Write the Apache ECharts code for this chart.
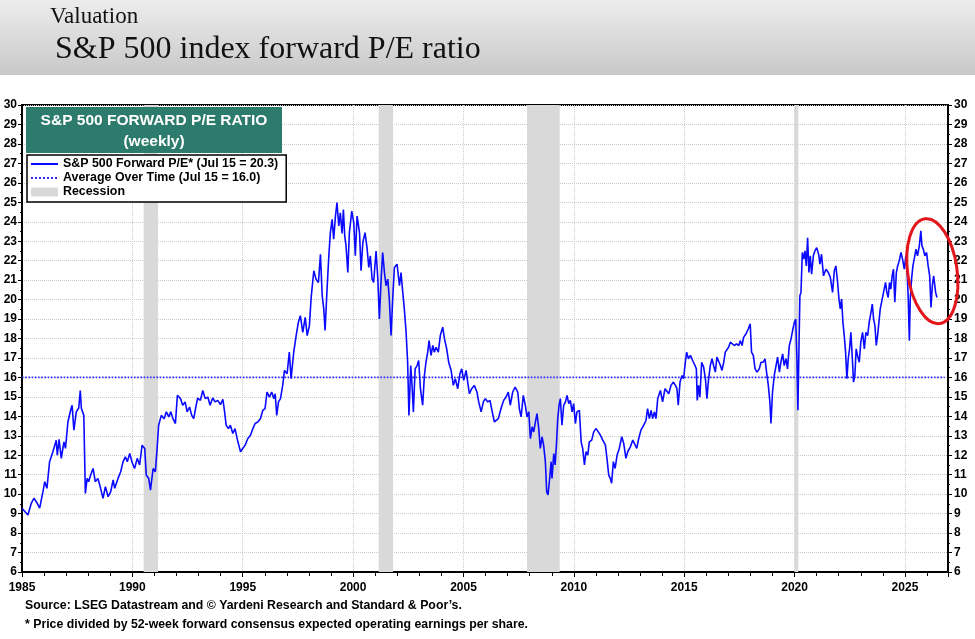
<!DOCTYPE html>
<html>
<head>
<meta charset="utf-8">
<title>S&amp;P 500 index forward P/E ratio</title>
<script src="https://cdn.jsdelivr.net/npm/echarts@6/dist/echarts.min.js"></script>
<style>
    html, body { margin: 0; padding: 0; background: #fff; }
    #chart { width: 975px; height: 639px; }
</style>
</head>
<body>
<div id="chart"></div>
<script>
// forward P/E (dates as decimal years)
var peDates = [
    1985.0, 1985.27, 1985.42, 1985.54, 1985.69, 1985.8, 1985.95, 1986.03, 1986.13, 1986.25,
    1986.4, 1986.55, 1986.6, 1986.68, 1986.78, 1986.9, 1986.97, 1987.08, 1987.2, 1987.27,
    1987.35, 1987.46, 1987.57, 1987.64, 1987.69, 1987.8, 1987.87, 1987.95, 1988.02, 1988.11,
    1988.22, 1988.32, 1988.44, 1988.56, 1988.67, 1988.78, 1988.9, 1989.02, 1989.13, 1989.2,
    1989.35, 1989.47, 1989.58, 1989.68, 1989.77, 1989.88, 1989.98, 1990.1, 1990.22, 1990.33,
    1990.44, 1990.56, 1990.63, 1990.74, 1990.82, 1990.94, 1991.04, 1991.12, 1991.19, 1991.31,
    1991.44, 1991.54, 1991.65, 1991.74, 1991.84, 1991.95, 1992.04, 1992.18, 1992.28, 1992.39,
    1992.48, 1992.59, 1992.69, 1992.78, 1992.89, 1992.96, 1993.08, 1993.19, 1993.3, 1993.42,
    1993.52, 1993.64, 1993.75, 1993.87, 1993.99, 1994.1, 1994.17, 1994.25, 1994.35, 1994.44,
    1994.55, 1994.65, 1994.78, 1994.9, 1995.0, 1995.11, 1995.23, 1995.35, 1995.46, 1995.56,
    1995.68, 1995.8, 1995.91, 1996.01, 1996.1, 1996.21, 1996.31, 1996.41, 1996.47, 1996.54,
    1996.62, 1996.71, 1996.81, 1996.89, 1997.01, 1997.11, 1997.19, 1997.31, 1997.42, 1997.52,
    1997.61, 1997.72, 1997.83, 1997.92, 1998.02, 1998.1, 1998.22, 1998.32, 1998.43, 1998.52,
    1998.6, 1998.67, 1998.73, 1998.82, 1998.9, 1998.97, 1999.05, 1999.12, 1999.2, 1999.27,
    1999.35, 1999.42, 1999.5, 1999.56, 1999.62, 1999.68, 1999.76, 1999.83, 1999.94, 2000.03,
    2000.1, 2000.18, 2000.29, 2000.36, 2000.44, 2000.54, 2000.63, 2000.71, 2000.78, 2000.86,
    2000.93, 2001.04, 2001.12, 2001.19, 2001.27, 2001.34, 2001.42, 2001.49, 2001.57, 2001.64,
    2001.72, 2001.8, 2001.87, 2001.99, 2002.1, 2002.17, 2002.25, 2002.32, 2002.4, 2002.47,
    2002.53, 2002.61, 2002.67, 2002.73, 2002.81, 2002.9, 2002.97, 2003.05, 2003.15, 2003.23,
    2003.3, 2003.38, 2003.44, 2003.53, 2003.61, 2003.68, 2003.76, 2003.86, 2003.95, 2004.06,
    2004.14, 2004.24, 2004.33, 2004.44, 2004.54, 2004.63, 2004.74, 2004.84, 2004.92, 2005.01,
    2005.12, 2005.19, 2005.27, 2005.37, 2005.49, 2005.61, 2005.69, 2005.8, 2005.9, 2005.99,
    2006.1, 2006.2, 2006.29, 2006.4, 2006.48, 2006.58, 2006.7, 2006.82, 2006.93, 2007.03,
    2007.12, 2007.23, 2007.34, 2007.46, 2007.53, 2007.61, 2007.71, 2007.8, 2007.88, 2007.96,
    2008.03, 2008.11, 2008.18, 2008.26, 2008.33, 2008.41, 2008.48, 2008.56, 2008.63, 2008.71,
    2008.77, 2008.83, 2008.89, 2008.97, 2009.01, 2009.09, 2009.15, 2009.21, 2009.27, 2009.33,
    2009.39, 2009.46, 2009.54, 2009.62, 2009.69, 2009.77, 2009.84, 2009.92, 2009.99, 2010.07,
    2010.14, 2010.25, 2010.33, 2010.4, 2010.48, 2010.55, 2010.63, 2010.7, 2010.81, 2010.9,
    2011.0, 2011.11, 2011.2, 2011.31, 2011.43, 2011.5, 2011.58, 2011.65, 2011.71, 2011.79,
    2011.87, 2011.96, 2012.06, 2012.17, 2012.26, 2012.36, 2012.44, 2012.56, 2012.67, 2012.74,
    2012.85, 2012.94, 2013.04, 2013.16, 2013.27, 2013.34, 2013.42, 2013.5, 2013.57, 2013.65,
    2013.72, 2013.8, 2013.92, 2014.02, 2014.13, 2014.22, 2014.3, 2014.4, 2014.51, 2014.6,
    2014.67, 2014.73, 2014.81, 2014.9, 2014.97, 2015.05, 2015.11, 2015.19, 2015.28, 2015.38,
    2015.49, 2015.55, 2015.59, 2015.65, 2015.71, 2015.79, 2015.88, 2015.96, 2016.03, 2016.09,
    2016.18, 2016.26, 2016.33, 2016.41, 2016.48, 2016.56, 2016.64, 2016.71, 2016.79, 2016.86,
    2016.94, 2017.01, 2017.09, 2017.16, 2017.27, 2017.37, 2017.47, 2017.54, 2017.62, 2017.69,
    2017.8, 2017.9, 2017.99, 2018.05, 2018.13, 2018.21, 2018.3, 2018.4, 2018.48, 2018.58,
    2018.66, 2018.73, 2018.81, 2018.88, 2018.93, 2019.0, 2019.08, 2019.16, 2019.23, 2019.31,
    2019.38, 2019.46, 2019.53, 2019.61, 2019.68, 2019.76, 2019.84, 2019.91, 2019.99, 2020.05,
    2020.11, 2020.15, 2020.2, 2020.24, 2020.29, 2020.35, 2020.41, 2020.47, 2020.53, 2020.59,
    2020.65, 2020.71, 2020.77, 2020.85, 2020.92, 2021.0, 2021.09, 2021.15, 2021.22, 2021.31,
    2021.42, 2021.53, 2021.62, 2021.72, 2021.8, 2021.87, 2021.95, 2022.01, 2022.07, 2022.13,
    2022.19, 2022.25, 2022.31, 2022.37, 2022.43, 2022.49, 2022.55, 2022.61, 2022.67, 2022.73,
    2022.79, 2022.85, 2022.93, 2023.0, 2023.08, 2023.16, 2023.23, 2023.31, 2023.38, 2023.46,
    2023.52, 2023.58, 2023.64, 2023.7, 2023.76, 2023.82, 2023.88, 2023.94, 2024.0, 2024.06,
    2024.12, 2024.18, 2024.24, 2024.3, 2024.36, 2024.42, 2024.48, 2024.54, 2024.61, 2024.67,
    2024.74, 2024.82, 2024.89, 2024.97, 2025.04, 2025.1, 2025.15, 2025.2, 2025.24, 2025.3,
    2025.36, 2025.42, 2025.5, 2025.57, 2025.65, 2025.72, 2025.77, 2025.83, 2025.9, 2025.98,
    2026.05, 2026.12, 2026.18, 2026.24, 2026.3, 2026.34, 2026.39, 2026.45
];
var peValues = [
    9.28, 8.93, 9.53, 9.79, 9.53, 9.28, 10.13, 10.64, 10.3, 11.67,
    12.18, 12.77, 12.0, 12.82, 11.84, 12.69, 12.35, 13.71, 14.3, 14.57,
    13.29, 14.23, 14.43, 15.33, 14.4, 14.05, 10.04, 10.81, 10.64, 10.98,
    11.32, 10.64, 10.81, 10.3, 9.79, 10.39, 9.87, 10.13, 10.73, 10.3,
    10.81, 11.15, 11.67, 11.92, 11.67, 12.09, 11.67, 11.32, 11.84, 11.5,
    12.52, 12.35, 10.98, 10.81, 10.21, 11.32, 11.15, 12.35, 13.54, 14.05,
    13.88, 14.23, 13.97, 14.23, 13.88, 13.63, 15.08, 14.91, 14.57, 14.74,
    14.23, 14.48, 14.05, 13.88, 14.57, 14.94, 14.82, 15.33, 14.91, 14.99,
    14.57, 14.94, 14.74, 14.82, 14.6, 14.87, 14.31, 13.54, 13.37, 13.54,
    13.12, 13.37, 12.69, 12.18, 12.35, 12.52, 12.86, 13.03, 13.37, 13.63,
    13.71, 13.88, 14.31, 14.4, 15.25, 14.99, 15.25, 14.91, 15.16, 14.05,
    14.74, 14.91, 15.59, 16.36, 16.19, 17.3, 15.93, 17.3, 18.15, 18.83,
    19.17, 18.32, 19.09, 18.15, 18.66, 20.11, 21.48, 21.05, 20.88, 22.33,
    20.2, 19.52, 18.41, 20.54, 22.25, 23.44, 24.12, 23.1, 24.29, 24.98,
    23.78, 24.46, 23.4, 24.63, 23.27, 22.76, 21.39, 23.44, 24.55, 23.95,
    22.25, 24.29, 23.44, 21.48, 22.93, 23.44, 22.67, 21.65, 22.25, 21.05,
    20.88, 22.5, 21.05, 19.0, 21.05, 22.42, 21.39, 20.71, 21.05, 20.03,
    18.15, 20.2, 21.65, 21.82, 20.71, 21.39, 20.37, 19.52, 18.32, 16.78,
    14.05, 16.61, 15.59, 14.23, 16.44, 16.61, 16.87, 15.42, 14.57, 16.1,
    16.78, 17.3, 17.89, 17.13, 17.64, 17.3, 17.55, 17.3, 18.15, 18.58,
    17.98, 17.47, 16.78, 16.36, 15.59, 15.93, 15.42, 16.19, 16.44, 15.85,
    16.36, 15.76, 15.16, 15.42, 15.59, 15.25, 14.74, 14.23, 14.74, 14.91,
    14.74, 14.82, 14.31, 13.71, 13.63, 13.88, 14.4, 14.82, 14.99, 15.25,
    14.57, 15.25, 15.5, 15.25, 14.4, 13.97, 15.08, 14.57, 13.97, 14.23,
    12.86, 13.46, 13.2, 13.71, 14.14, 13.37, 12.35, 12.95, 12.52, 11.67,
    10.13, 9.96, 10.64, 11.67, 10.81, 12.09, 11.5, 12.52, 13.88, 14.57,
    14.91, 13.54, 14.57, 14.74, 15.08, 14.65, 14.82, 14.23, 14.65, 13.63,
    14.23, 14.31, 12.69, 12.35, 11.5, 12.18, 12.01, 12.69, 12.78, 13.2,
    13.37, 13.2, 13.03, 12.78, 12.52, 11.84, 10.98, 10.81, 10.56, 11.67,
    11.32, 12.01, 12.35, 12.95, 12.6, 11.84, 12.18, 12.43, 12.78, 12.69,
    12.35, 12.86, 13.29, 13.54, 13.8, 14.4, 13.88, 14.31, 13.88, 14.23,
    13.88, 14.91, 15.33, 14.74, 15.42, 15.5, 15.16, 15.59, 15.76, 15.59,
    15.42, 14.57, 15.76, 16.1, 15.93, 16.78, 17.3, 16.96, 17.13, 16.87,
    16.61, 16.44, 14.82, 15.59, 14.99, 16.78, 16.53, 15.93, 14.91, 15.76,
    16.61, 16.96, 16.61, 16.27, 17.04, 17.13, 16.61, 16.36, 16.78, 17.3,
    17.38, 17.55, 17.81, 17.72, 17.64, 17.72, 17.64, 17.89, 17.64, 18.06,
    18.24, 18.49, 18.75, 17.3, 17.13, 16.44, 16.27, 16.44, 16.78, 16.78,
    16.96, 16.27, 15.59, 14.74, 13.63, 15.25, 16.1, 16.61, 17.04, 16.27,
    16.78, 17.21, 16.61, 16.96, 16.44, 17.64, 17.98, 18.41, 18.83, 19.0,
    16.78, 14.31, 17.64, 20.2, 20.37, 22.42, 22.08, 22.5, 21.73, 23.18,
    21.39, 22.25, 21.31, 22.25, 22.5, 22.67, 22.33, 21.82, 22.33, 21.22,
    21.56, 21.39, 21.14, 20.37, 21.48, 21.73, 20.88, 20.03, 19.52, 20.03,
    18.83, 18.15, 17.3, 15.93, 16.96, 17.47, 18.32, 17.13, 15.76, 16.1,
    17.47, 17.13, 16.78, 17.81, 18.32, 17.47, 18.32, 18.15, 18.83, 19.34,
    19.77, 19.0, 18.66, 17.64, 18.15, 18.83, 19.52, 19.86, 20.2, 20.54,
    20.88, 20.37, 20.11, 20.88, 20.54, 21.22, 21.56, 19.86, 21.39, 21.73,
    21.99, 22.42, 22.08, 21.56, 22.25, 21.39, 20.03, 17.89, 20.03, 21.05,
    21.73, 22.08, 22.59, 22.25, 22.76, 23.53, 22.76, 22.59, 22.25, 22.42,
    21.73, 21.22, 19.6, 20.71, 21.22, 21.31, 20.37, 20.11
];

// average over time
var avgDates = [1985, 2026.8];
var avgValues = [16.0, 16.0];

// recessions, start and end in decimal years
var recessions = [
    [1990.51, 1991.16],
    [2001.16, 2001.81],
    [2007.88, 2009.36],
    [2019.99, 2020.17]
];

// red hand-drawn ring round the latest readings: centre [year, P/E], half width in years, half height in P/E
var noteCentre = [2026.24, 21.46];
var noteSize = [1.12, 2.72];

var peName = 'S&P 500 Forward P/E* (Jul 15 = 20.3)';
var avgName = 'Average Over Time (Jul 15 = 16.0)';
var recName = 'Recession';

var FONT = 'Liberation Sans';

var peData = peDates.map(function (d, i) { return [d, peValues[i]]; });
var avgData = avgDates.map(function (d, i) { return [d, avgValues[i]]; });

var chart = echarts.init(document.getElementById('chart'), null, { renderer: 'canvas' });

var yAxisBase = {
    type: 'value',
    min: 6,
    max: 30,
    interval: 1,
    axisLine: { show: true, lineStyle: { color: '#000', width: 2 } },
    axisTick: { show: true, length: 4, lineStyle: { color: '#000', width: 1 } },
    minorTick: { show: true, splitNumber: 2, length: 2, lineStyle: { color: '#000' } },
    axisLabel: { color: '#000', fontFamily: FONT, fontWeight: 'bold', fontSize: 12, margin: 5 }
};

var option = {
    backgroundColor: '#fff',
    animation: false,
    grid: {
        left: 22, right: 27, top: 105, bottom: 67,
        show: true, borderColor: '#000', borderWidth: 2,
        outerBoundsMode: 'none'
    },
    legend: {
        orient: 'vertical',
        left: 27,
        top: 155,
        padding: [2, 8, 3, 3],
        itemGap: 0,
        itemWidth: 27,
        itemHeight: 9,
        backgroundColor: '#fff',
        borderColor: '#000',
        borderWidth: 1.5,
        borderRadius: 0,
        selectedMode: false,
        // hide the circle that line series put in the legend icon
        itemStyle: { opacity: 0 },
        textStyle: { color: '#000', fontFamily: FONT, fontWeight: 'bold', fontSize: 12.4, lineHeight: 14 },
        data: [
            { name: peName },
            { name: avgName },
            { name: recName, icon: 'rect', itemStyle: { opacity: 1, color: '#d9d9d9' } }
        ]
    },
    xAxis: [
        {
            // one tick a year
            type: 'value', min: 1985, max: 2026.95, interval: 1,
            axisLine: { show: true, lineStyle: { color: '#000', width: 2 } },
            axisTick: { show: true, length: 4, lineStyle: { color: '#000' } },
            axisLabel: { show: false },
            splitLine: { show: false }
        },
        {
            // labels and grid every five years
            type: 'value', position: 'bottom', min: 1985, max: 2026.95, interval: 5,
            axisLine: { show: false },
            axisTick: { show: true, length: 5, lineStyle: { color: '#000' } },
            axisLabel: {
                color: '#000', fontFamily: FONT, fontWeight: 'bold', fontSize: 12, margin: 10,
                formatter: function (v) { return v % 5 === 0 ? String(v) : ''; }
            },
            splitLine: { show: true, lineStyle: { color: '#cccccc', type: 'dotted', width: 1 } }
        }
    ],
    yAxis: [
        echarts.util.merge({
            position: 'left',
            splitLine: { show: true, lineStyle: { color: '#cccccc', type: 'dotted', width: 1 } }
        }, yAxisBase),
        echarts.util.merge({
            position: 'right',
            splitLine: { show: false },
            axisLabel: { margin: 6 }
        }, yAxisBase)
    ],
    graphic: [
        {
            type: 'rect', id: 'headBand', left: 0, top: 0, z: 0,
            shape: { width: 975, height: 75 },
            style: {
                fill: new echarts.graphic.LinearGradient(0, 0, 0, 1, [
                    { offset: 0, color: '#ededed' },
                    { offset: 1, color: '#c8c8c8' }
                ])
            }
        },
        {
            type: 'text', id: 'kicker', left: 50, top: 5,
            style: { text: 'Valuation', fill: '#111', font: '23px "Liberation Serif"' }
        },
        {
            type: 'text', id: 'headline', left: 55, top: 34,
            style: { text: 'S&P 500 index forward P/E ratio', fill: '#111', font: '32px "Liberation Serif"' }
        },
        {
            type: 'rect', id: 'titleBox', left: 26, top: 107, z: 10,
            shape: { width: 256, height: 46 },
            style: { fill: '#2c7b6c' }
        },
        {
            type: 'text', id: 'titleLine1', x: 154, y: 121, z: 11,
            style: {
                text: 'S&P 500 FORWARD P/E RATIO', fill: '#fff', align: 'center', verticalAlign: 'middle',
                font: 'bold 15.5px "Liberation Sans"'
            }
        },
        {
            type: 'text', id: 'titleLine2', x: 154, y: 142, z: 11,
            style: {
                text: '(weekly)', fill: '#fff', align: 'center', verticalAlign: 'middle',
                font: 'bold 15.5px "Liberation Sans"'
            }
        },
        {
            type: 'text', id: 'source1', left: 25, top: 600,
            style: {
                text: 'Source: LSEG Datastream and \u00a9 Yardeni Research and Standard & Poor\u2019s.',
                fill: '#000', font: 'bold 12.3px "Liberation Sans"'
            }
        },
        {
            type: 'text', id: 'source2', left: 25, top: 619,
            style: {
                text: '* Price divided by 52-week forward consensus expected operating earnings per share.',
                fill: '#000', font: 'bold 12.3px "Liberation Sans"'
            }
        }
    ],
    series: [
        {
            name: recName,
            type: 'custom',
            xAxisIndex: 0,
            yAxisIndex: 0,
            z: 1,
            itemStyle: { color: '#d9d9d9' },
            encode: { x: [0, 1] },
            data: recessions,
            renderItem: function (params, api) {
                var p0 = api.coord([api.value(0), 30]);
                var p1 = api.coord([api.value(1), 6]);
                return {
                    type: 'rect',
                    shape: { x: p0[0], y: p0[1], width: p1[0] - p0[0], height: p1[1] - p0[1] },
                    style: { fill: '#d9d9d9' }
                };
            }
        },
        {
            name: avgName,
            type: 'line',
            xAxisIndex: 0,
            yAxisIndex: 0,
            z: 3,
            symbol: 'none',
            silent: true,
            color: '#2b2bff',
            lineStyle: { color: '#2b2bff', width: 1.6, type: 'dotted' },
            data: avgData
        },
        {
            name: peName,
            type: 'line',
            xAxisIndex: 0,
            yAxisIndex: 0,
            z: 4,
            symbol: 'none',
            silent: true,
            color: '#0a0aff',
            lineStyle: { color: '#0a0aff', width: 1.6 },
            data: peData
        }
    ]
};

chart.setOption(option);

// place the red ring from data coordinates
var c = chart.convertToPixel({ seriesIndex: 2 }, noteCentre);
var cx2 = chart.convertToPixel({ seriesIndex: 2 }, [noteCentre[0] + noteSize[0], noteCentre[1] + noteSize[1]]);
chart.setOption({
    graphic: [{
        type: 'ellipse', id: 'redRing', x: c[0], y: c[1], rotation: 0.14, z: 20,
        shape: { cx: 0, cy: 0, rx: Math.abs(cx2[0] - c[0]), ry: Math.abs(c[1] - cx2[1]) },
        style: { fill: 'none', stroke: '#e3161c', lineWidth: 3 }
    }]
});
</script>
</body>
</html>
